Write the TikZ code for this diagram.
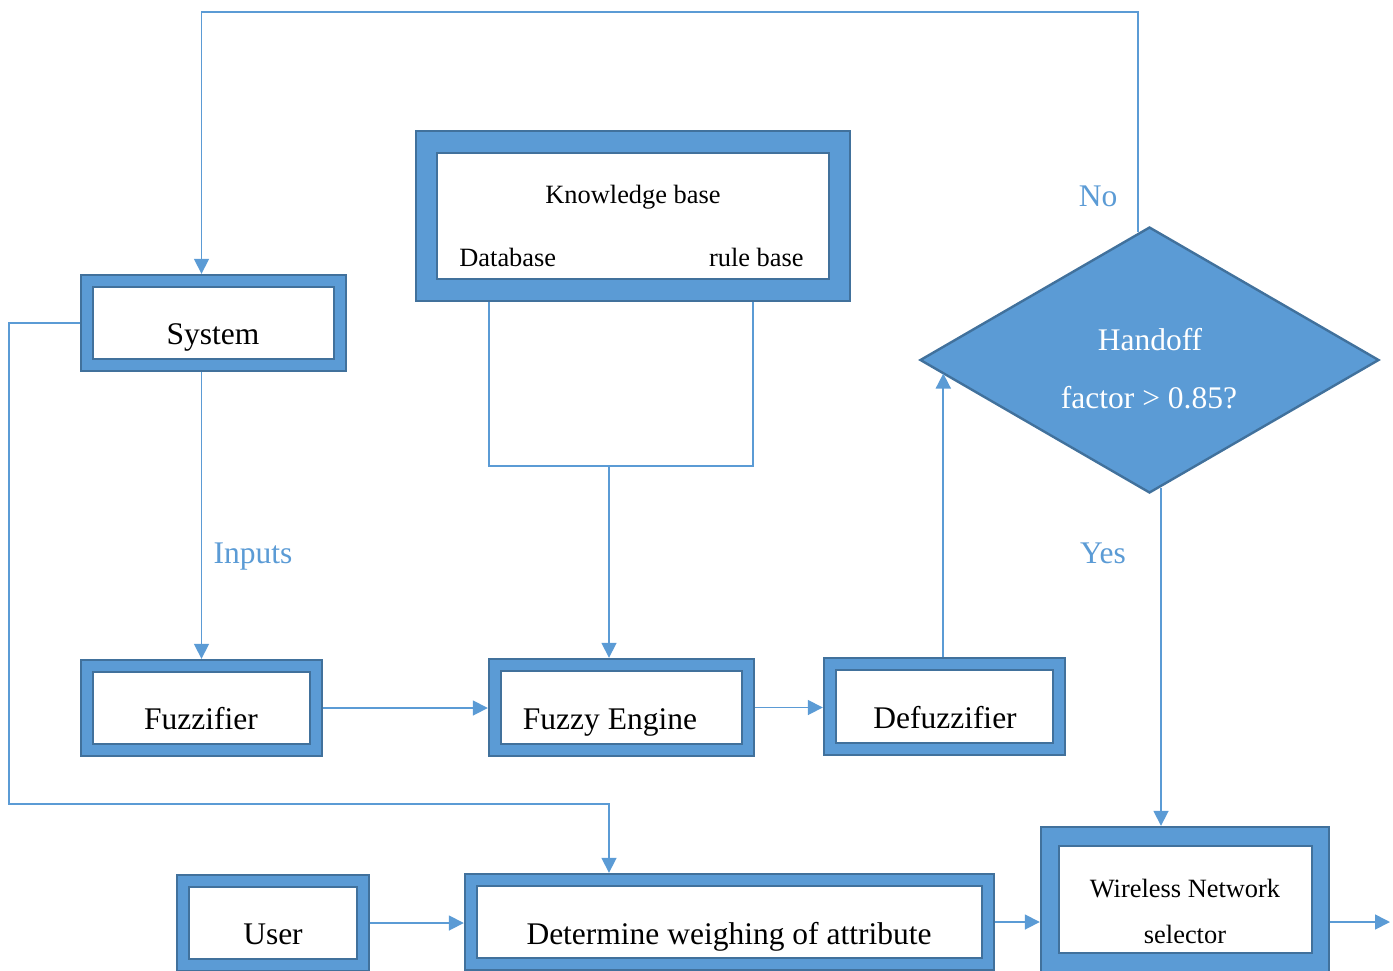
\documentclass[tikz,border=0pt]{standalone}
\usepackage{fontspec}
\setmainfont{Liberation Serif}
\usetikzlibrary{shapes.geometric,arrows.meta,calc}
\definecolor{boxblue}{HTML}{5B9BD5}
\definecolor{edgeblue}{HTML}{41719C}
\definecolor{lineblue}{HTML}{5B9BD5}
\tikzset{
  frame/.style={rectangle, draw=edgeblue, fill=boxblue, line width=1.2pt, inner sep=0pt},
  pane/.style={rectangle, draw=edgeblue, fill=white, line width=1.2pt, inner sep=0pt},
  link/.style={draw=lineblue, line width=0.85pt},
  arr/.style={link, -{Triangle[length=7.5pt,width=7.5pt]}},
  big/.style={font=\fontsize{15.75}{18}\selectfont, inner sep=0pt, anchor=base},
  small/.style={font=\fontsize{13.2}{15}\selectfont, inner sep=0pt, anchor=base},
  tag/.style={big, text=lineblue},
}
\begin{document}
\begin{tikzpicture}[x=0.5pt,y=-0.5pt]
\useasboundingbox (0,0) rectangle (1393,970);

% framed boxes: blue frame with white pane
\node[frame, minimum width=132.5pt, minimum height=48pt] (sys) at (213.5,323) {};
\node[pane, minimum width=120.5pt, minimum height=36pt] (syspane) at (213.5,323) {};
\node[big] (systxt) at (213,344) {System};

\node[frame, minimum width=217pt, minimum height=85pt] (kb) at (633,216) {};
\node[pane, minimum width=196pt, minimum height=63pt] (kbpane) at (633,216) {};
\node[small] (kbtxt) at (633,203) {Knowledge base};
\node[small, anchor=base west] (dbtxt) at (459,266) {Database};
\node[small, anchor=base east] (rbtxt) at (804,266) {rule base};

\node[frame, minimum width=120.5pt, minimum height=48pt] (fz) at (201.5,708) {};
\node[pane, minimum width=108.5pt, minimum height=36pt] (fzpane) at (201.5,708) {};
\node[big] (fztxt) at (201,729) {Fuzzifier};

\node[frame, minimum width=132.5pt, minimum height=48.5pt] (fe) at (621.5,707.5) {};
\node[pane, minimum width=120.5pt, minimum height=36.5pt] (fepane) at (621.5,707.5) {};
\node[big] (fetxt) at (610,729) {Fuzzy Engine};

\node[frame, minimum width=120.5pt, minimum height=48.5pt] (dz) at (944.5,706.5) {};
\node[pane, minimum width=108.5pt, minimum height=36.5pt] (dzpane) at (944.5,706.5) {};
\node[big] (dztxt) at (945,728) {Defuzzifier};

\node[frame, minimum width=96pt, minimum height=48pt] (us) at (273,923) {};
\node[pane, minimum width=84pt, minimum height=36pt] (uspane) at (273,923) {};
\node[big] (ustxt) at (273,944) {User};

\node[frame, minimum width=264.5pt, minimum height=48pt] (dw) at (729.5,922) {};
\node[pane, minimum width=252.5pt, minimum height=36pt] (dwpane) at (729.5,922) {};
\node[big] (dwtxt) at (729,944) {Determine weighing of attribute};

\node[frame, minimum width=144pt, minimum height=72.5pt] (wn) at (1185,899.5) {};
\node[pane, minimum width=126.5pt, minimum height=53.5pt] (wnpane) at (1185.5,899.5) {};
\node[small] (wntxt1) at (1185,897) {Wireless Network};
\node[small] (wntxt2) at (1185,943) {selector};

% decision
\node[diamond, draw=edgeblue, fill=boxblue, line width=1.2pt, inner sep=0pt,
      minimum width=229.5pt, minimum height=133pt] (hd) at (1149.5,360) {};
\node[big, text=white] (hdtxt1) at (1150,350) {Handoff};
\node[big, text=white] (hdtxt2) at (1149,408) {factor > 0.85?};

% branch labels
\node[tag] (notxt) at (1098,206) {No};
\node[tag] (yestxt) at (1103,563) {Yes};
\node[tag] (intxt) at (253,563) {Inputs};

% helper points
\coordinate (ceil) at (0,12);
\coordinate (leftrail) at (9,804);
\coordinate (kbL) at (489,466);
\coordinate (kbR) at (753,466);
\coordinate (kbjoin) at (609,466);
\coordinate (nostart) at ($(hd.north)+(-11.5,6.5)$);
\coordinate (yesstart) at ($(hd.south)+(11.5,-6.5)$);
\coordinate (hdin) at ($(hd.west)+(24.5,13.5)$);
\coordinate (outend) at (1390,922);

% connectors
\draw[arr] (nostart) |- (ceil -| fz.north) -- (sys.north -| fz.north);
\draw[arr] (sys.south -| fz.north) -- (fz.north);
\draw[arr] (sys.west) -| (leftrail) -| (kbjoin |- dw.north);
\draw[link] (kb.south -| kbL) -- (kbL) -- (kbR) -- (kb.south -| kbR);
\draw[arr] (kbjoin) -- (kbjoin |- fe.north);
\draw[arr] (fz.east) -- (fz.east -| fe.west);
\draw[arr] (fe.east) -- (fe.east -| dz.west);
\draw[arr] (dz.north -| hdin) -- (hdin);
\draw[arr] (yesstart) -- (yesstart |- wn.north);
\draw[arr] (us.east) -- (us.east -| dw.west);
\draw[arr] (dw.east) -- (dw.east -| wn.west);
\draw[arr] (dw.east -| wn.east) -- (outend);
\end{tikzpicture}
\end{document}
